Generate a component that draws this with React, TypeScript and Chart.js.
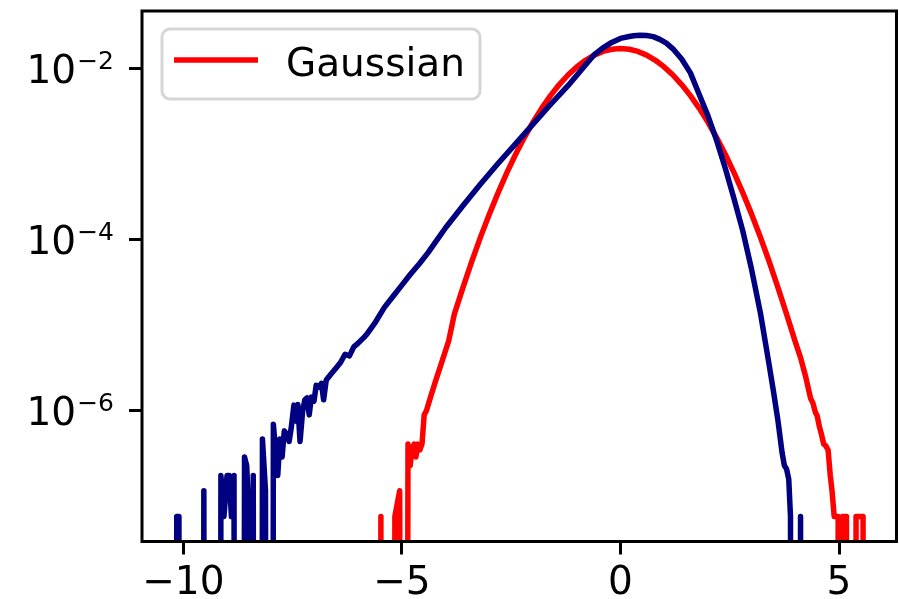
import React, { useEffect, useRef } from "react";
import { Chart, registerables } from "chart.js";

Chart.register(...registerables);

// ---- data (probability per bin, log y) ----
const blueX = [
  -10.25, -10.15, -10.1, -10.05, -9.6, -9.53, -9.47, -9.19, -9.14, -9.07, -9.0, -8.95, -8.9, -8.84, -8.78,
  -8.66, -8.6, -8.55, -8.5, -8.45, -8.4, -8.34, -8.25, -8.19, -8.12, -8.05, -7.99, -7.94, -7.89, -7.84,
  -7.79, -7.74, -7.69, -7.63, -7.58, -7.53, -7.47, -7.42, -7.38, -7.33, -7.27, -7.22, -7.17, -7.12, -7.07,
  -7.01, -6.96, -6.9, -6.84, -6.79, -6.73, -6.63, -6.5, -6.4, -6.3, -6.2, -6.1, -6.0, -5.87, -5.8, -5.6,
  -5.4, -5.2, -5.0, -4.8, -4.6, -4.4, -4.2, -4.0, -3.6, -3.2, -2.8, -2.4, -2.0, -1.6, -1.2, -0.8, -0.6,
  -0.4, -0.2, 0.0, 0.2, 0.3, 0.45, 0.6, 0.75, 0.9, 1.05, 1.2, 1.4, 1.6, 1.8, 2.0, 2.2, 2.4, 2.6, 2.8, 3.0,
  3.2, 3.4, 3.5, 3.6, 3.7, 3.75, 3.8, 3.85, 3.89, 3.93, 4.07, 4.12, 4.17,
];
const blueY = [
  0, 5.85e-8, 5.85e-8, 0, 0, 1.17e-7, 0, 0, 1.76e-7, 5.85e-8, 1.76e-7, 1.76e-7, 5.85e-8, 1.76e-7, 0,
  0, 2.9e-7, 2.3e-7, 5.85e-8, 0, 1.76e-7, 0, 0, 4.7e-7, 1.17e-7, 0, 0, 7.0e-7, 3.5e-7, 1.76e-7,
  4.7e-7, 2.9e-7, 5.85e-7, 5.3e-7, 4.4e-7, 6.4e-7, 1.17e-6, 7.6e-7, 1.19e-6, 4.4e-7, 1.0e-6, 1.35e-6, 1.42e-6, 9.0e-7, 1.45e-6,
  1.3e-6, 2.0e-6, 1.9e-6, 2.1e-6, 1.35e-6, 2.3e-6, 2.67e-6, 3.2e-6, 3.7e-6, 4.6e-6, 4.4e-6, 5.6e-6, 6.2e-6, 7.2e-6, 7.9e-6, 1.1e-5,
  1.62e-5, 2.19e-5, 2.95e-5, 3.98e-5, 5.25e-5, 7.08e-5, 9.9e-5, 1.38e-4, 2.51e-4, 4.47e-4, 7.76e-4, 1.32e-3, 2.24e-3, 3.8e-3, 6.31e-3, 1.1e-2, 1.45e-2,
  1.74e-2, 2.02e-2, 2.25e-2, 2.37e-2, 2.42e-2, 2.455e-2, 2.43e-2, 2.36e-2, 2.19e-2, 1.98e-2, 1.7e-2, 1.29e-2, 8.9e-3, 5.0e-3, 2.82e-3, 1.45e-3, 6.8e-4, 3.0e-4, 1.26e-4, 4.5e-5,
  1.41e-5, 3.5e-6, 1.7e-6, 7.9e-7, 3.2e-7, 2.3e-7, 2.1e-7, 1.6e-7, 5.85e-8, 0, 0, 5.85e-8, 0,
];

const redX = [
  -5.52, -5.48, -5.44, -5.21, -5.16, -5.05, -4.95, -4.86, -4.81, -4.77, -4.72, -4.68, -4.63, -4.59, -4.54,
  -4.49, -4.44, -4.35, -4.23, -4.08, -3.93, -3.8, -3.6, -3.4, -3.2, -3.0, -2.8, -2.6, -2.4, -2.2, -2.0,
  -1.8, -1.6, -1.4, -1.2, -1.0, -0.8, -0.6, -0.4, -0.2, 0.0, 0.2, 0.4, 0.6, 0.8, 1.0, 1.2, 1.4, 1.6, 1.8,
  2.0, 2.2, 2.4, 2.6, 2.8, 3.0, 3.2, 3.4, 3.6, 3.8, 4.0, 4.12, 4.23, 4.35, 4.4, 4.46, 4.5, 4.55, 4.6, 4.65,
  4.7, 4.75, 4.8, 4.84, 4.89, 4.94, 4.98, 5.03, 5.08, 5.13, 5.17, 5.22, 5.34, 5.39, 5.43, 5.47, 5.51, 5.55, 5.6,
];
const redY = [
  0, 5.85e-8, 0, 0, 5.85e-8, 1.17e-7, 0, 4.1e-7, 2.3e-7, 3.5e-7, 4.1e-7, 2.9e-7, 4.1e-7, 3.5e-7, 4.1e-7,
  9.0e-7, 1.0e-6, 1.42e-6, 2.23e-6, 3.82e-6, 6.56e-6, 1.35e-5, 2.8e-5, 5.6e-5, 1.08e-4, 1.99e-4, 3.53e-4, 6.03e-4, 9.9e-4, 1.561e-3, 2.366e-3,
  3.45e-3, 4.83e-3, 6.5e-3, 8.4e-3, 1.045e-2, 1.248e-2, 1.434e-2, 1.583e-2, 1.68e-2, 1.714e-2, 1.68e-2, 1.583e-2, 1.434e-2, 1.248e-2, 1.045e-2, 8.4e-3, 6.5e-3, 4.83e-3, 3.45e-3,
  2.366e-3, 1.561e-3, 9.9e-4, 6.03e-4, 3.53e-4, 1.99e-4, 1.077e-4, 5.61e-5, 2.8e-5, 1.35e-5, 6.4e-6, 4.2e-6, 2.6e-6, 1.4e-6, 1.25e-6, 9.6e-7, 8.8e-7, 6.6e-7, 5.3e-7, 4.1e-7,
  3.9e-7, 3.5e-7, 1.76e-7, 1.17e-7, 5.85e-8, 5.85e-8, 5.85e-8, 0, 5.85e-8, 5.85e-8, 5.85e-8, 0, 0, 5.85e-8, 5.85e-8, 5.85e-8, 5.85e-8, 5.85e-8, 0,
];

const redLabel = "Gaussian";
const xTickValues = [-10, -5, 0, 5];
const xTickLabels = ["\u221210", "\u22125", "0", "5"];
const yTickValues = [1e-6, 1e-4, 1e-2];
const yTickBase = "10";
const yTickExponents = ["\u22126", "\u22124", "\u22122"];

const X_MIN = -10.945;
const X_MAX = 6.315;
const Y_MIN = 2.985e-8;
const Y_MAX = 4.7e-2;
// empty bins are clipped far below the axis, as matplotlib does with non-positive values on a log scale
const EMPTY_BIN_FLOOR = 1e-30;

const FONT = "'DejaVu Sans', 'Liberation Sans', sans-serif";

export default function App() {
  const ref = useRef<HTMLCanvasElement>(null);

  useEffect(() => {
    const canvas = ref.current;
    if (!canvas) return;
    const toPts = (xs: number[], ys: number[]) =>
      xs.map((x, i) => ({ x, y: ys[i] > 0 ? ys[i] : EMPTY_BIN_FLOOR }));

    const framePlugin = {
      id: "frameAndLegend",
      afterDatasetsDraw(chart: any) {
        const { ctx, chartArea: a } = chart;
        ctx.save();
        ctx.strokeStyle = "#000";
        ctx.lineWidth = 3;
        ctx.strokeRect(a.left, a.top, a.right - a.left, a.bottom - a.top);
        ctx.restore();
      },
      afterDraw(chart: any) {
        const { ctx, chartArea: a } = chart;
        const ys = chart.scales.y;
        ctx.save();
        ctx.fillStyle = "#000";
        ctx.textAlign = "right";
        ctx.textBaseline = "alphabetic";
        const labelRight = a.left - 28;
        yTickValues.forEach((v, i) => {
          const py = ys.getPixelForValue(v);
          ctx.font = `25px ${FONT}`;
          const sup = yTickExponents[i];
          const w = ctx.measureText(sup).width;
          ctx.fillText(sup, labelRight, py);
          ctx.font = `39px ${FONT}`;
          ctx.fillText(yTickBase, labelRight - w - 1, py + 14.4);
        });

        // legend
        const lx = a.left + 20;
        const ly = a.top + 18;
        const lw = 318;
        const lh = 70;
        ctx.beginPath();
        (ctx as any).roundRect(lx, ly, lw, lh, 8);
        ctx.fillStyle = "rgba(255,255,255,0.8)";
        ctx.fill();
        ctx.strokeStyle = "rgba(204,204,204,0.8)";
        ctx.lineWidth = 3;
        ctx.stroke();
        const ds = chart.data.datasets[1];
        ctx.beginPath();
        ctx.moveTo(lx + 12, ly + 31);
        ctx.lineTo(lx + 96, ly + 31);
        ctx.strokeStyle = ds.borderColor;
        ctx.lineWidth = 5.5;
        ctx.lineCap = "butt";
        ctx.stroke();
        ctx.fillStyle = "#000";
        ctx.textAlign = "left";
        ctx.font = `39px ${FONT}`;
        ctx.fillText(ds.label, lx + 124, ly + 47);
        ctx.restore();
      },
    };

    const chart = new Chart(canvas, {
      type: "line",
      data: {
        datasets: [
          {
            label: "",
            data: toPts(blueX, blueY),
            borderColor: "#000080",
            borderWidth: 5.5,
            pointRadius: 0,
            tension: 0,
            borderJoinStyle: "round",
          },
          {
            label: redLabel,
            data: toPts(redX, redY),
            borderColor: "#ff0000",
            borderWidth: 5.5,
            pointRadius: 0,
            tension: 0,
            borderJoinStyle: "round",
          },
        ],
      },
      options: {
        animation: false,
        responsive: false,
        devicePixelRatio: 1,
        layout: { padding: { left: 0, right: 2.5, top: 11, bottom: 0 } },
        plugins: { legend: { display: false }, tooltip: { enabled: false } },
        scales: {
          x: {
            type: "linear",
            min: X_MIN,
            max: X_MAX,
            bounds: "data",
            afterBuildTicks: (s: any) => {
              s.ticks = xTickValues.map((value) => ({ value }));
            },
            afterFit: (s: any) => {
              s.height = 57.5;
            },
            border: { display: false },
            grid: {
              drawOnChartArea: false,
              drawTicks: true,
              tickLength: 13,
              tickWidth: 3,
              tickColor: "#000",
            },
            ticks: {
              autoSkip: false,
              maxRotation: 0,
              padding: 6,
              color: "#000",
              font: { family: FONT, size: 39 },
              callback: (_v: any, i: number) => xTickLabels[i],
            },
          },
          y: {
            type: "logarithmic",
            min: Y_MIN,
            max: Y_MAX,
            bounds: "data",
            afterBuildTicks: (s: any) => {
              s.ticks = yTickValues.map((value) => ({ value }));
            },
            afterFit: (s: any) => {
              s.width = 142;
            },
            border: { display: false },
            grid: {
              drawOnChartArea: false,
              drawTicks: true,
              tickLength: 13,
              tickWidth: 3,
              tickColor: "#000",
            },
            ticks: { display: false },
          },
        },
      } as any,
      plugins: [framePlugin],
    });
    return () => chart.destroy();
  }, []);

  return (
    <div style={{ position: "fixed", left: 0, top: 0, width: 899, height: 599, background: "#fff" }}>
      <canvas ref={ref} width={899} height={599} style={{ display: "block" }} />
    </div>
  );
}
